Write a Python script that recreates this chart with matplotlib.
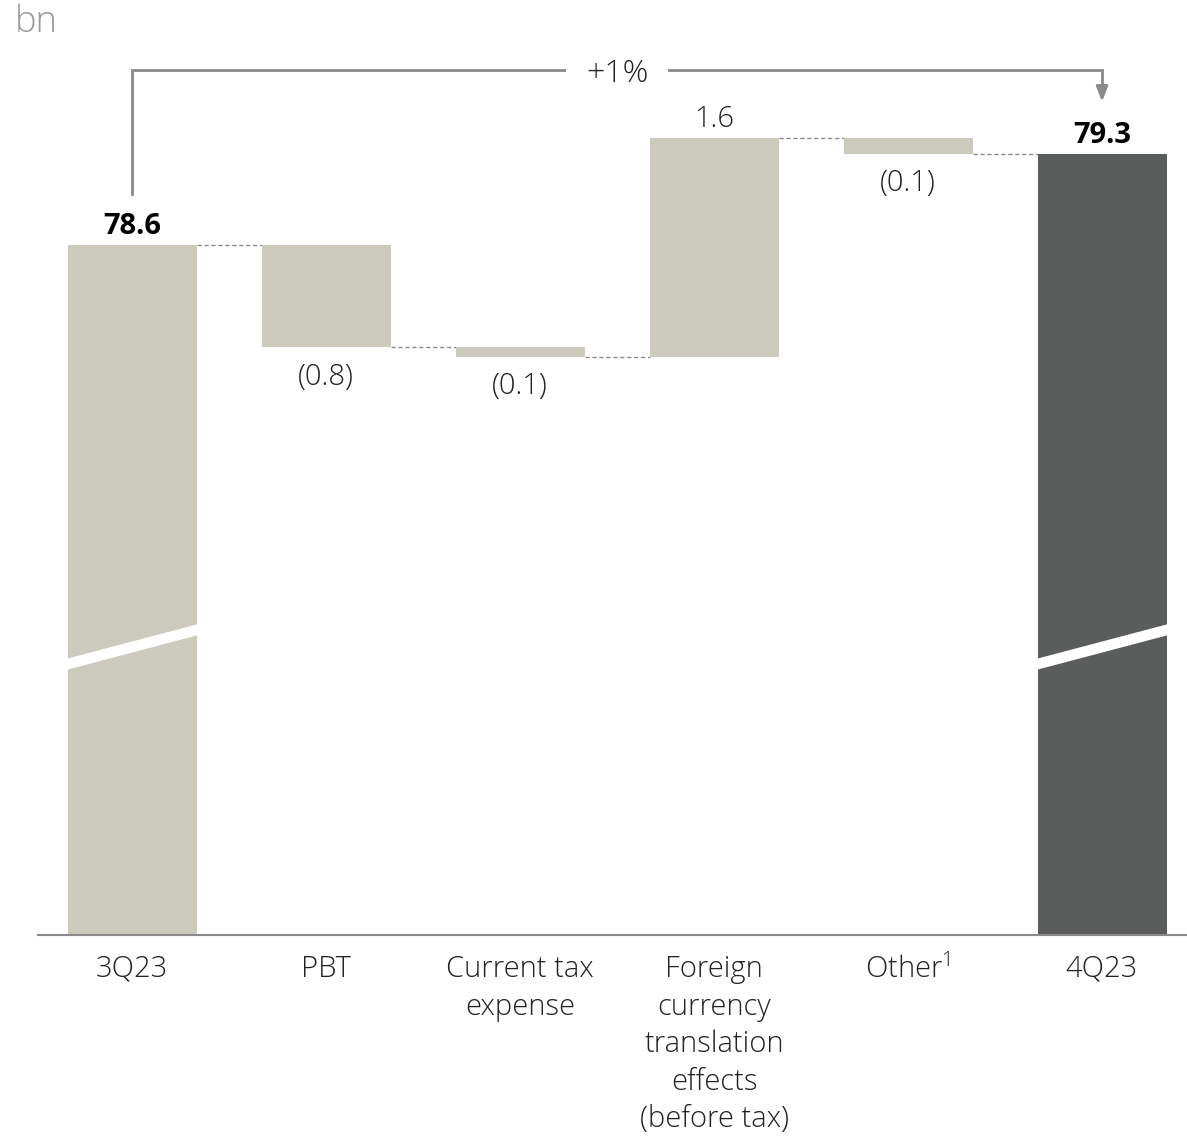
import matplotlib.pyplot as plt
from matplotlib.patches import Polygon

# data (bn)
categories = ["3Q23", "PBT", "Current tax\nexpense",
              "Foreign\ncurrency\ntranslation\neffects\n(before tax)",
              "Other$^{\\mathregular{1}}$", "4Q23"]
start_value = 78.6
changes = [-0.79, -0.07, 1.68, -0.12]
end_value = 79.3
value_labels = ["78.6", "(0.8)", "(0.1)", "1.6", "(0.1)", "79.3"]
growth_label = "+1%"

beige = "#CCCABD"
dark = "#5B5D5C"
grey = "#8A8A8A"

plt.rcParams['font.family'] = ['Open Sans', 'DejaVu Sans']
plt.rcParams['mathtext.default'] = 'regular'

fig = plt.figure(figsize=(11.87, 11.36), dpi=100)
ax = fig.add_axes([38 / 1187, 1 - 935 / 1136, 1 - 38 / 1187, 935 / 1136])

floor = 73.29
ax.set_ylim(floor, floor + 935 / 130)
ax.set_xlim(-0.485, 5.438)
width = 0.665

# running totals
levels = [start_value]
for c in changes:
    levels.append(levels[-1] + c)

x = list(range(len(categories)))

# total bars
ax.bar(x[0], start_value - floor, width, bottom=floor, color=beige, zorder=2)
ax.bar(x[-1], end_value - floor, width, bottom=floor, color=dark, zorder=2)

# floating bars
for i, c in enumerate(changes):
    lo = min(levels[i], levels[i + 1])
    ax.bar(x[i + 1], abs(c), width, bottom=lo, color=beige, zorder=2)

# dashed connectors between bars
for i in range(len(categories) - 1):
    yl = levels[i] if i < len(levels) else end_value
    ax.plot([x[i] + width / 2, x[i + 1] - width / 2], [yl, yl],
            ls=(0, (3, 2)), color=grey, lw=1, zorder=1)

# axis break bands on the total bars
for xi in (x[0], x[-1]):
    yl, yr, th = 75.37, 75.64, 0.085
    band = Polygon([(xi - width / 2 - 0.01, yl - th / 2), (xi + width / 2 + 0.01, yr - th / 2),
                    (xi + width / 2 + 0.01, yr + th / 2), (xi - width / 2 - 0.01, yl + th / 2)],
                   closed=True, facecolor="white", edgecolor="none", zorder=3)
    ax.add_patch(band)

# value labels
fs = 21
off_up = 4 / 130
off_dn = 15 / 130
ax.text(x[0], start_value + off_up, value_labels[0], ha="center", va="bottom",
        fontsize=fs, fontweight="bold")
ax.text(x[-1], end_value + off_up, value_labels[-1], ha="center", va="bottom",
        fontsize=fs, fontweight="bold")
for i, c in enumerate(changes):
    if c >= 0:
        ax.text(x[i + 1], levels[i + 1] + off_up, value_labels[i + 1],
                ha="center", va="bottom", fontsize=fs, color="#222222", fontweight="light")
    else:
        ax.text(x[i + 1], levels[i + 1] - off_dn, value_labels[i + 1],
                ha="center", va="top", fontsize=fs, color="#222222", fontweight="light")

# growth arrow
top = 79.946
ax.plot([x[0], x[0], x[-1], x[-1]], [78.99, top, top, 79.80],
        color=grey, lw=2, solid_joinstyle="miter", clip_on=False, zorder=4)
ax.annotate("", xy=(x[-1], 79.70), xytext=(x[-1], 79.82),
            arrowprops=dict(arrowstyle="-|>,head_length=0.9,head_width=0.35",
                            color=grey, lw=2, shrinkA=0, shrinkB=0),
            annotation_clip=False)
ax.text(2.5, top - 0.035, growth_label, ha="center", va="center", fontsize=23,
        color="#222222", zorder=5, fontweight="light",
        bbox=dict(facecolor="white", edgecolor="none", pad=14))

# axes styling
for s in ("top", "right", "left"):
    ax.spines[s].set_visible(False)
ax.spines["bottom"].set_color(grey)
ax.spines["bottom"].set_linewidth(1.5)
ax.set_yticks([])
ax.set_xticks(x)
ax.set_xticklabels(categories, fontsize=fs, linespacing=1.36, color="#222222",
                   fontweight="light")
ax.tick_params(axis="x", length=0, pad=14)

fig.text(15 / 1187, 1 - 22 / 1136, "bn", fontsize=26, color="#999999",
         ha="left", va="center", fontweight="light")

fig.savefig("out.png", dpi=100)
